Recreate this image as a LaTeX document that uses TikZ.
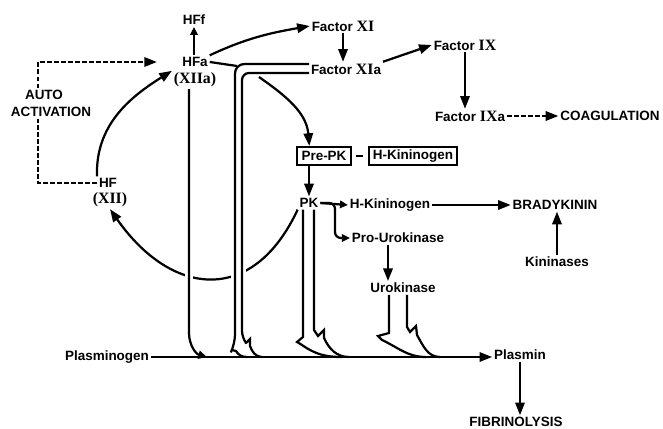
\documentclass[tikz,border=0pt]{standalone}
\usepackage{fontspec}
\setmainfont{Liberation Serif}
\setsansfont{Liberation Sans}
\usetikzlibrary{arrows.meta, positioning, calc}
\newcommand{\rnum}[1]{{\rmfamily\fontsize{13.5}{14}\selectfont #1}}
\tikzset{
  lbl/.style  ={font=\sffamily\bfseries\fontsize{11.5}{12.5}\selectfont,
                inner sep=1.5pt},
  boxn/.style ={lbl, draw, line width=1.8pt, inner xsep=3.5pt,
                minimum height=0.54cm},
  ln/.style   ={line width=1.9pt},
  arr/.style  ={ln, -{Triangle[length=3.8mm, width=2.8mm]}},
  arrS/.style ={ln, -{Triangle[length=2.4mm, width=2.2mm]}},
  dsh/.style  ={ln, dash pattern=on 4pt off 2pt},
  halo/.style ={preaction={draw, white, line width=6.5pt}},
}
\begin{document}
\begin{tikzpicture}[x=0.03cm, y=-0.03cm]
  \useasboundingbox (0,0) rectangle (663,429);
  % labels
  \node[lbl] (hff)   at (194,20)  {HFf};
  \node[lbl] (hfa)   at (195,62)  {HFa};
  \node[lbl] (xiia)  at (195,80)  {\rnum{(XIIa)}};
  \node[lbl] (hf)    at (108,183) {HF};
  \node[lbl] (xii)   at (110,200) {\rnum{(XII)}};
  \node[lbl] (auto)  at (44,95)   {AUTO};
  \node[lbl] (activ) at (51,112)  {ACTIVATION};
  \node[lbl] (fxi)   at (343,26)  {Factor \rnum{XI}};
  \node[lbl] (fxia)  at (346,69)  {Factor \rnum{XI}a};
  \node[lbl] (fix)   at (465,45)  {Factor \rnum{IX}};
  \node[lbl] (fixa)  at (470,116) {Factor \rnum{IX}a};
  \node[lbl] (coag)  at (610,116) {COAGULATION};
  \node[boxn] (prepk) at (324,156) {Pre-PK};
  \node[boxn] (hkbox) at (413,156) {H-Kininogen};
  \node[lbl] (pk)    at (309,203) {PK};
  \node[lbl] (hk)    at (390,205) {H-Kininogen};
  \node[lbl] (brady) at (555,205) {BRADYKININ};
  \node[lbl] (prouk) at (398,238) {Pro-Urokinase};
  \node[lbl] (kin)   at (557,262) {Kininases};
  \node[lbl] (uk)    at (403,288) {Urokinase};
  \node[lbl] (plgn)  at (107,357) {Plasminogen};
  \node[lbl] (plasmin) at (520,355) {Plasmin};
  \node[lbl] (fibr)  at (516,422) {FIBRINOLYSIS};
  % helper points
  \coordinate (aal)  at (38,0);
  \coordinate (brk)  at (335,0);
  \coordinate (xjoin) at (237,66);
  \coordinate (kk)   at (259,77);
  \coordinate (b1)   at (189,333);  \coordinate (m1)  at (207,357);
  \coordinate (b2o)  at (235,344);  \coordinate (m2o) at (247,357);
  \coordinate (b2i)  at (242,338);  \coordinate (m2i) at (262,357);
  \coordinate (b3l)  at (303,337);  \coordinate (m3l) at (342,357);
  \coordinate (b3r)  at (314,330);  \coordinate (m3r) at (349,357);
  \coordinate (b4l)  at (389,333);  \coordinate (m4l) at (426,357);
  \coordinate (b4r)  at (407,327);  \coordinate (m4r) at (440,357);
  % the cycle
  \draw[arr] (hf.north west) to[out=92, in=212] (xiia.north west);
  \draw[arr] (pk.south west) to[out=245, in=-55, looseness=1.45] (xii.south);
  \draw[dsh] (hf.west) -| (activ.south -| aal);
  \draw[dsh, -{Triangle[length=3.8mm, width=2.8mm]}, shorten >=0.7cm]
    (auto.north -| aal) |- (hfa.west);
  % lines down to plasminogen
  \draw[ln, halo, -{Triangle[length=2.6mm, width=2.4mm]}]
    (xiia.south -| b1) -- (b1) to[out=-90, in=165] (m1);
  \draw[ln, halo] ($(fxia.west)+(0,-5)$) [rounded corners=8pt] -| (b2o)
    [sharp corners] -- ++(-3,6) -- ++(4,1) to[out=-60, in=180] (m2o);
  \draw[ln, halo] ($(fxia.west)+(0,4)$) [rounded corners=6pt] -| (b2i)
    [sharp corners] -- ++(4,5) -- ++(4,-4) -- ++(0,7) to[out=-70, in=180] (m2i);
  \draw[ln] (hfa.east) -- (xjoin);
  \draw[ln] (pk.south -| b3l) -- (b3l) -- ++(-6,5) -- ++(5,3)
    to[out=-35, in=180] (m3l);
  \draw[ln] (pk.south -| b3r) -- (b3r) -- ++(4,6) -- ++(6,-6) -- ++(0,8)
    to[out=-65, in=180] (m3r);
  \draw[ln] (uk.south -| b4l) -- (b4l) -- ++(-11,3) -- ++(4,4)
    to[out=-25, in=180] (m4l);
  \draw[ln] (uk.south -| b4r) -- (b4r) -- ++(3,5) -- ++(6,-6) -- ++(1,9)
    to[out=-60, in=180] (m4r);
  % coagulation side
  \draw[arrS] (hfa.north -| hff) -- (hff.south);
  \draw[arr] (hfa.north east) to[out=25, in=190] (fxi.west);
  \draw[arr] (fxi.south) -- (fxi.south |- fxia.north);
  \draw[arr] (fxia.north east) -- (fix.west);
  \draw[arr] (fix.south) -- (fix.south |- fixa.north);
  \draw[dsh, -{Triangle[length=3.8mm, width=2.8mm]}] (fixa.east) -- (coag.west);
  % kinin side
  \draw[arr] (kk) to[out=-35, in=95] ($(prepk.north west)+(13,0)$);
  \draw[ln, shorten <=4pt, shorten >=4pt] (prepk) -- (hkbox);
  \draw[arr] (prepk.south -| pk) -- (pk.north);
  \draw[arrS] (pk.east) -- (hk.west);
  \draw[arrS, rounded corners=5pt] (pk.east) -| (brk |- prouk.west) -- (prouk.west);
  \draw[arr] (hk.east) -- (brady.west);
  \draw[arr] (kin.north) -- (kin.north |- brady.south);
  \draw[arr] ($(prouk.south)+(-10,0)$) -- ($(uk.north)+(-15,0)$);
  % fibrinolysis
  \draw[arr] (plgn.east) -- (plgn.east -| plasmin.west);
  \draw[arr] (plasmin.south) -- (plasmin.south |- fibr.north);
\end{tikzpicture}
\end{document}
